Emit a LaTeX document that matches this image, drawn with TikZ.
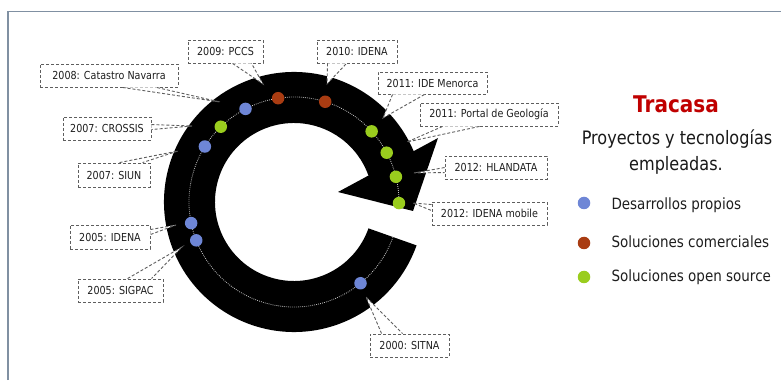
\documentclass[tikz,border=0pt]{standalone}
\usepackage{fontspec}
\setmainfont{DejaVu Sans}[FakeStretch=0.87]
\usetikzlibrary{calc}
\definecolor{dblue}{HTML}{6E86D6}
\definecolor{dbrown}{HTML}{A93C12}
\definecolor{dgreen}{HTML}{9ACD1E}
\definecolor{tred}{HTML}{C00000}
\definecolor{framec}{HTML}{8090A2}
\definecolor{boxgray}{HTML}{5E5E5E}
\definecolor{txtgray}{HTML}{1E1E1E}
\begin{document}
\begin{tikzpicture}[x=1pt,y=1pt,
  box/.style={draw=boxgray, dash pattern=on 3pt off 2pt, line width=0.9pt, fill=white,
    minimum height=23pt, inner sep=0pt, font=\fontsize{11}{13}\selectfont, text=txtgray},
  ptr/.style={draw=boxgray, dash pattern=on 3pt off 2pt, line width=0.9pt, fill=white},
  dot/.style={circle, fill=#1, minimum size=12.5pt, inner sep=0pt},
  legtext/.style={anchor=base west, font=\fontsize{15.5}{18}\selectfont, text=txtgray},
  dotline/.style={draw=white!80!black, line width=0.8pt, dash pattern=on 0.8pt off 1.2pt}]
\useasboundingbox (0,0) rectangle (781,380);
\fill[white] (0,0) rectangle (781,380);
\draw[framec, line width=1.5pt] (8,0) -- (8,368.5) -- (781,368.5);

% ring
\coordinate (c) at (294,178);
\fill[black] ($(c)+(19.5:130)$) arc[start angle=19.5,end angle=340.5,radius=130]
  -- ($(c)+(340.5:79)$) arc[start angle=340.5,end angle=19.5,radius=79] -- cycle;
\fill[black] (338,188) -- (438,242) -- (413,169) -- cycle;
\draw[dotline] ($(c)+(-19.5:105)$) arc[start angle=-19.5,end angle=-360,radius=105];

% callouts
\node[box, minimum width=75pt] (pccs) at (225.5,328.5) {2009: PCCS};
\coordinate (pccs-t) at (263,296);
\draw[ptr] ($(pccs.south west)+(45,0)$) -- (pccs-t) -- ($(pccs.south west)+(64,0)$);

\node[box, minimum width=80pt] (idena10) at (357,328.5) {2010: IDENA};
\coordinate (idena10-t) at (327,296);
\draw[ptr] ($(idena10.south west)+(11,0)$) -- (idena10-t) -- ($(idena10.south west)+(30,0)$);

\node[box, minimum width=138pt] (catastro) at (109,304.5) {2008: Catastro Navarra};
\coordinate (catastro-t) at (220,278);
\draw[ptr] ($(catastro.south west)+(83,0)$) -- (catastro-t) -- ($(catastro.south west)+(117,0)$);

\node[box, minimum width=88pt] (crossis) at (107,251.5) {2007: CROSSIS};
\coordinate (crossis-t) at (192,254);
\draw[ptr] ($(crossis.north east)+(0,-8)$) -- (crossis-t) -- ($(crossis.north east)+(0,-13)$);

\node[box, minimum width=72pt, minimum height=24pt] (siun) at (114,205) {2007: SIUN};
\coordinate (siun-t) at (178,229);
\draw[ptr] ($(siun.north west)+(42,0)$) -- (siun-t) -- ($(siun.north west)+(65,0)$);

\node[box, minimum width=80pt, minimum height=24pt] (idena05) at (110,143) {2005: IDENA};
\coordinate (idena05-t) at (176,155);
\draw[ptr] ($(idena05.north east)+(0,-5)$) -- (idena05-t) -- ($(idena05.north east)+(0,-10)$);

\node[box, minimum width=85pt] (sigpac) at (120.5,89.5) {2005: SIGPAC};
\coordinate (sigpac-t) at (182,133);
\draw[ptr] ($(sigpac.north west)+(50,0)$) -- (sigpac-t) -- ($(sigpac.north west)+(74,0)$);

\node[box, minimum width=79pt] (sitna) at (409.5,34.5) {2000: SITNA};
\coordinate (sitna-t) at (366,83);
\draw[ptr] ($(sitna.north west)+(12,0)$) -- (sitna-t) -- ($(sitna.north west)+(33,0)$);

\node[box, minimum width=109pt, minimum height=22pt] (menorca) at (432.5,297) {2011: IDE Menorca};
\coordinate (menorca-t) at (383,262);
\draw[ptr] ($(menorca.south west)+(15,0)$) -- (menorca-t) -- ($(menorca.south west)+(47,0)$);

\node[box, minimum width=138pt] (portal) at (489,265.5) {2011: Portal de Geología};
\coordinate (portal-t) at (407,238);
\draw[ptr] ($(portal.south west)+(23,0)$) -- (portal-t) -- ($(portal.south west)+(60,0)$);

\node[box, minimum width=102pt] (hlandata) at (496,212.5) {2012: HLANDATA};
\coordinate (hlandata-t) at (414,207);
\draw[ptr] ($(hlandata.north west)+(0,-12)$) -- (hlandata-t) -- ($(hlandata.north west)+(0,-17)$);

\node[box, minimum width=115pt] (mobile) at (489.5,166.5) {2012: IDENA mobile};
\coordinate (mobile-t) at (413,177);
\draw[ptr] ($(mobile.north west)+(0,-3)$) -- (mobile-t) -- ($(mobile.north west)+(0,-9)$);

% dots
\node[dot=dblue] (d2000) at ($(c)+(-50.7:105)$) {};
\node[dot=dblue] (d2005a) at ($(c)+(191.6:105)$) {};
\node[dot=dblue] (d2005b) at ($(c)+(201.4:105)$) {};
\node[dot=dblue] (d2007a) at ($(c)+(148.1:105)$) {};
\node[dot=dgreen] (d2007b) at ($(c)+(134.2:105)$) {};
\node[dot=dblue] (d2008) at ($(c)+(117.5:105)$) {};
\node[dot=dbrown] (d2009) at ($(c)+(98.7:105)$) {};
\node[dot=dbrown] (d2010) at ($(c)+(72.7:105)$) {};
\node[dot=dgreen] (d2011a) at ($(c)+(42.3:105)$) {};
\node[dot=dgreen] (d2011b) at ($(c)+(28.0:105)$) {};
\node[dot=dgreen] (d2012a) at ($(c)+(13.9:105)$) {};
\node[dot=dgreen] (d2012b) at ($(c)+(-0.6:105)$) {};

% title and legend
\node[anchor=base, font=\bfseries\fontsize{23}{27}\selectfont, text=tred] (title) at (676,267) {Tracasa};
\node[anchor=base, font=\fontsize{18.5}{22}\selectfont, text=black!90] (sub1) at (677,235) {Proyectos y tecnologías};
\node[anchor=base, font=\fontsize{18.5}{22}\selectfont, text=black!90] (sub2) at (676,209) {empleadas.};

\node[dot=dblue] (l1) at (584,177) {};
\node[legtext] (t1) at (608,170) {Desarrollos propios};
\node[dot=dbrown] (l2) at (584,137) {};
\node[legtext] (t2) at (608,132) {Soluciones comerciales};
\node[dot=dgreen] (l3) at (584,103) {};
\node[legtext] (t3) at (608,98) {Soluciones open source};
\end{tikzpicture}
\end{document}
